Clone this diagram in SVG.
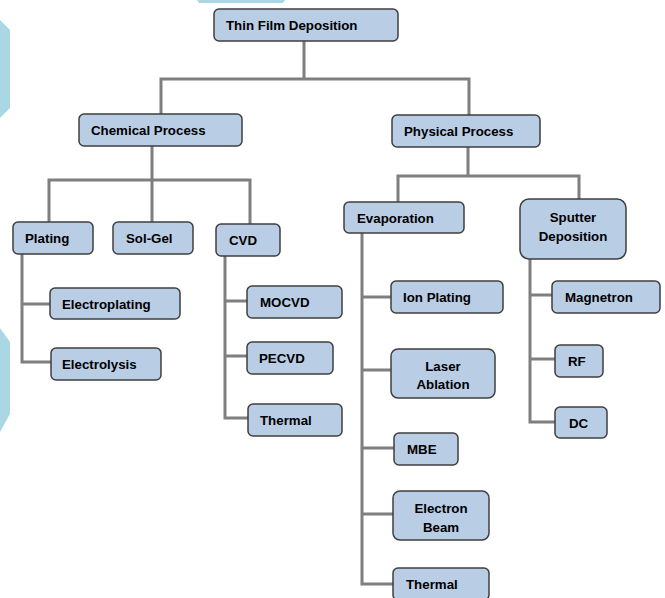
<svg xmlns="http://www.w3.org/2000/svg" width="665" height="598" viewBox="0 0 665 598">
<style>
.n rect{fill:#b9cde5;stroke:#3f3f3f;stroke-width:1.5}
.n text{font-family:"Liberation Sans",Arial,sans-serif;font-weight:bold;font-size:13.3px;fill:#000}
.cn path{fill:none;stroke:#7f7f7f;stroke-width:3}
.deco{fill:#a9d8e4}
.m{text-anchor:middle}
</style>
<rect width="665" height="598" fill="#fff"/>
<g id="decor">
<polygon class="deco" points="0,20 10,30 10,108 0,118"/>
<polygon class="deco" points="0,328 10,342 10,414 0,432"/>
<polygon class="deco" points="197,0 285,0 283,3 199,3"/>
</g>
<g id="connectors" class="cn">
<path d="M304,41 V79 M161,114 V79 H469 V115"/>
<path d="M152,146 V180 M49,222 V180 H250 V224 M152,180 V222"/>
<path d="M468,147 V176 M398,202 V176 H579 V199"/>
<path d="M22,254 V362 H51 M22,304 H50"/>
<path d="M225,256 V418 H248 M225,301 H247 M225,356 H247"/>
<path d="M362,233 V584 H393 M362,297 H391 M362,370 H391 M362,448 H394 M362,514 H393"/>
<path d="M530,259 V422 H555 M530,295 H552 M530,359 H555"/>
</g>
<g id="root" class="n"><rect x="214" y="9" width="184" height="32" rx="5"/><text x="226" y="30">Thin Film Deposition</text></g>
<g id="chemical" class="n"><rect x="79" y="114" width="163" height="32" rx="5"/><text x="91" y="135">Chemical Process</text></g>
<g id="physical" class="n"><rect x="392" y="115" width="148" height="32" rx="5"/><text x="404" y="136">Physical Process</text></g>
<g id="plating" class="n"><rect x="13" y="222" width="80" height="32" rx="5"/><text x="25" y="243">Plating</text></g>
<g id="solgel" class="n"><rect x="113" y="222" width="80" height="32" rx="5"/><text x="126" y="243">Sol-Gel</text></g>
<g id="cvd" class="n"><rect x="216" y="224" width="64" height="32" rx="5"/><text x="229" y="245">CVD</text></g>
<g id="electroplating" class="n"><rect x="50" y="288" width="130" height="31" rx="5"/><text x="62" y="308.5">Electroplating</text></g>
<g id="electrolysis" class="n"><rect x="51" y="348" width="110" height="32" rx="5"/><text x="62" y="369">Electrolysis</text></g>
<g id="mocvd" class="n"><rect x="247" y="286" width="95" height="32" rx="5"/><text x="260" y="307">MOCVD</text></g>
<g id="pecvd" class="n"><rect x="247" y="342" width="86" height="32" rx="5"/><text x="259" y="363">PECVD</text></g>
<g id="thermal-cvd" class="n"><rect x="248" y="404" width="94" height="32" rx="5"/><text x="260" y="425">Thermal</text></g>
<g id="evaporation" class="n"><rect x="344" y="202" width="120" height="31" rx="5"/><text x="357" y="222.5">Evaporation</text></g>
<g id="sputter" class="n"><rect x="520" y="199" width="106" height="60" rx="9"/><text class="m" x="573" y="221.5">Sputter</text><text class="m" x="573" y="240.5">Deposition</text></g>
<g id="ionplating" class="n"><rect x="391" y="281" width="112" height="32" rx="5"/><text x="403" y="302">Ion Plating</text></g>
<g id="laser" class="n"><rect x="391" y="349" width="104" height="49" rx="7"/><text class="m" x="443" y="370.5">Laser</text><text class="m" x="443" y="388.5">Ablation</text></g>
<g id="mbe" class="n"><rect x="394" y="433" width="64" height="32" rx="5"/><text x="407" y="454">MBE</text></g>
<g id="ebeam" class="n"><rect x="393" y="491" width="96" height="49" rx="7"/><text class="m" x="441" y="512.5">Electron</text><text class="m" x="441" y="531.5">Beam</text></g>
<g id="thermal-evap" class="n"><rect x="393" y="568" width="96" height="32" rx="5"/><text x="406" y="589">Thermal</text></g>
<g id="magnetron" class="n"><rect x="552" y="281" width="108" height="32" rx="5"/><text x="565" y="302">Magnetron</text></g>
<g id="rf" class="n"><rect x="555" y="345" width="48" height="32" rx="5"/><text x="568" y="366">RF</text></g>
<g id="dc" class="n"><rect x="555" y="407" width="52" height="31" rx="5"/><text x="569" y="427.5">DC</text></g>
</svg>
